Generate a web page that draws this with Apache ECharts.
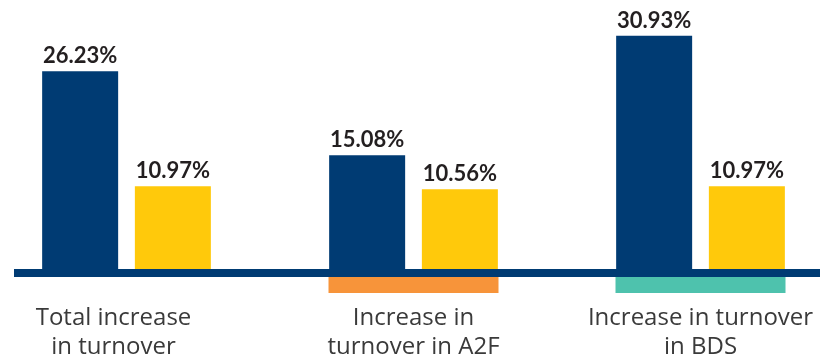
<!DOCTYPE html>
<html>
<head>
<meta charset="utf-8">
<script src="https://cdn.jsdelivr.net/npm/echarts@6/dist/echarts.min.js"></script>
<style>
  html, body { margin: 0; padding: 0; background: #fff; }
  #chart { width: 830px; height: 359px; }
</style>
</head>
<body>
<div id="chart"></div>
<script>
// chart data
var categories = ['Total increase\nin turnover', 'Increase in\nturnover in A2F', 'Increase in turnover\nin BDS'];
var firstValues = [26.23, 15.08, 30.93];
var secondValues = [10.97, 10.56, 10.97];
// coloured bands under categories (index, colour)
var bandItems = [[1, '#F7943A'], [2, '#4EC2AD']];

function withIndex(arr) {
  return arr.map(function (v, i) { return [i, v]; });
}

var chart = echarts.init(document.getElementById('chart'));

var labelStyle = {
  show: true,
  position: 'top',
  distance: 4,
  fontFamily: 'Lato',
  fontWeight: 'bold',
  fontSize: 22,
  color: '#231F20',
  formatter: function (p) { return p.value[1].toFixed(2) + '%'; }
};

var option = {
  animation: false,
  grid: { left: 0, right: 0, top: 5, bottom: 90, outerBoundsMode: 'none' },
  xAxis: {
    type: 'value',
    min: -0.4408,
    max: 2.4512,
    splitLine: { show: false },
    axisLine: { show: false },
    axisTick: { show: false },
    axisLabel: {
      customValues: [0, 1, 2],
      showMinLabel: true,
      showMaxLabel: true,
      margin: 35,
      fontFamily: 'Open Sans',
      fontSize: 24,
      lineHeight: 29,
      color: '#3a3a3a',
      formatter: function (v) {
        var i = Math.round(v);
        return i === 0 ? '{a|' + categories[i].replace('\n', '}\n{a|') + '}' : categories[i];
      },
      rich: {
        a: { fontFamily: 'Open Sans', fontSize: 24, lineHeight: 29, color: '#3a3a3a', padding: [0, 26, 0, 0] }
      }
    }
  },
  yAxis: {
    type: 'value',
    min: 0,
    max: 35,
    show: false,
    splitLine: { show: false }
  },
  graphic: [{
    type: 'rect',
    shape: { x: 14, y: 269, width: 806, height: 8 },
    style: { fill: '#003B73' },
    z: 10
  }],
  series: [
    {
      type: 'bar',
      data: withIndex(firstValues),
      barWidth: 76,
      barGap: '22%',
      itemStyle: { color: '#003B73' },
      label: labelStyle
    },
    {
      type: 'bar',
      data: withIndex(secondValues),
      barWidth: 76,
      itemStyle: { color: '#FFC90B' },
      label: labelStyle
    },
    {
      type: 'custom',
      data: bandItems,
      renderItem: function (params, api) {
        var idx = api.value(0);
        var p = api.coord([idx, 0]);
        var w = 170;
        return {
          type: 'rect',
          shape: { x: p[0] - w / 2, y: p[1] + 8, width: w, height: 16 },
          style: { fill: bandItems[params.dataIndex][1] }
        };
      },
      encode: { x: 0, y: 0 },
      clip: false
    }
  ]
};

chart.setOption(option);
</script>
</body>
</html>
